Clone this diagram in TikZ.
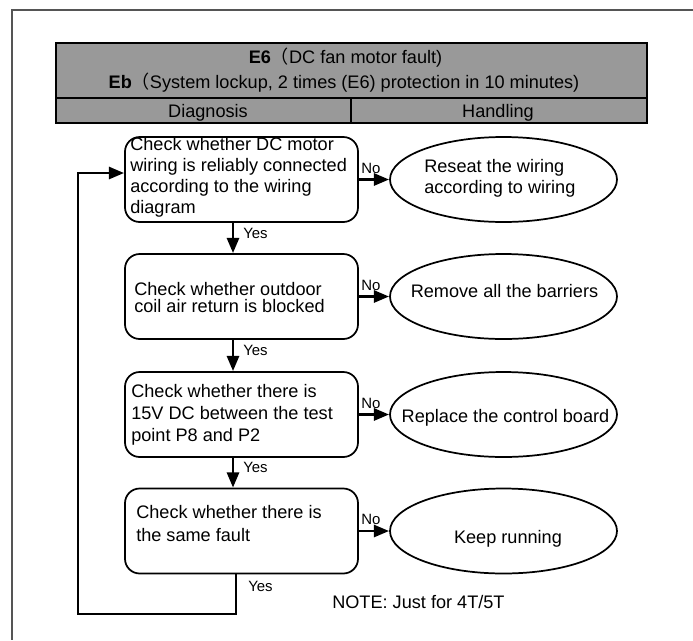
\documentclass[tikz,border=0pt]{standalone}
\usepackage{fontspec}
\setmainfont{Liberation Sans}
\newfontfamily\cjk{Noto Sans CJK SC}
\usetikzlibrary{arrows.meta,shapes.geometric}
\definecolor{hgray}{HTML}{999999}
\definecolor{framegray}{HTML}{555555}
\newcommand\mlines[3]{\parbox[t]{#1}{\fontsize{13.6}{#2}\selectfont\raggedright #3}}
\tikzset{
  box/.style={draw, line width=1.3pt, rounded corners=11pt, minimum width=174.75pt, minimum height=63.75pt, inner sep=0pt},
  oval/.style={draw, ellipse, line width=1.3pt, minimum width=170.25pt, minimum height=63.75pt, inner sep=0pt},
  arr/.style={line width=2.2pt, line join=miter, -{Triangle[length=11.5pt,width=9pt]}},
  hcell/.style={draw, fill=hgray, line width=1.5pt, inner sep=0pt},
  txt/.style={inner sep=0pt, font=\fontsize{13.6}{16}\selectfont},
  lab/.style={inner sep=0pt, font=\fontsize{11.2}{13}\selectfont, anchor=base west},
}
\begin{document}
\begin{tikzpicture}[x=0.75pt, y=-0.75pt]
\useasboundingbox (0,0) rectangle (693,640);
% outer frame
\draw[framegray, line width=1pt] (693,10) -- (12,10) -- (12,640);
% header
\node[hcell, minimum width=443.25pt, minimum height=41.25pt] (hdr) at (351.5,70.5) {};
\node[hcell, minimum width=221.25pt, minimum height=18.75pt] (dg) at (203.5,110.5) {};
\node[hcell, minimum width=222pt, minimum height=18.75pt] (hd) at (499,110.5) {};
\node[txt, anchor=base] (h1) at (345.5,63) {\textbf{E6}{\cjk （}DC fan motor fault)};
\node[txt, anchor=base] (h2) at (344,88) {\textbf{Eb}{\cjk （}System lockup, 2 times (E6) protection in 10 minutes)};
\node[txt, anchor=base] (dgt) at (208,117) {Diagnosis};
\node[txt, anchor=base] (hdt) at (498,117) {Handling};
% check boxes
\node[box] (b1) at (241.5,179.5) {};
\node[box] (b2) at (241.5,296.5) {};
\node[box] (b3) at (241.5,414.5) {};
\node[box] (b4) at (241.5,531) {};
\node[anchor=base west, inner sep=0pt] (t1) at (130,150) {\mlines{200pt}{15.75pt}{Check whether DC motor\\wiring is reliably connected\\according to the wiring\\diagram}};
\node[anchor=base west, inner sep=0pt] (t2) at (134,295) {\mlines{200pt}{13pt}{Check whether outdoor\\coil air return is blocked}};
\node[anchor=base west, inner sep=0pt] (t3) at (131,397) {\mlines{200pt}{16.5pt}{Check whether there is\\15V DC between the test\\point P8 and P2}};
\node[anchor=base west, inner sep=0pt] (t4) at (136,518) {\mlines{200pt}{17.25pt}{Check whether there is\\the same fault}};
% handling ovals
\node[oval] (e1) at (503.5,179.5) {};
\node[oval] (e2) at (503.5,296.5) {};
\node[oval] (e3) at (503.5,414.5) {};
\node[oval] (e4) at (503.5,531) {};
\node[anchor=base west, inner sep=0pt] (s1) at (424,172) {\mlines{200pt}{15.75pt}{Reseat the wiring\\according to wiring}};
\node[txt, anchor=base] (s2) at (504.5,297) {Remove all the barriers};
\node[txt, anchor=base] (s3) at (505.5,422) {Replace the control board};
\node[txt, anchor=base] (s4) at (508,543) {Keep running};
% coordinates for connectors
\coordinate (ax) at (233,0);
\coordinate (lb) at (236,614);
\coordinate (ll) at (78,614);
\coordinate (lt) at (78,173);
% yes arrows
\draw[arr] (ax |- b1.south) -- (ax |- b2.north);
\draw[arr] (ax |- b2.south) -- (ax |- b3.north);
\draw[arr] (ax |- b3.south) -- (ax |- b4.north);
\draw[arr] (lb |- b4.south) -- (lb) -- (ll) -- (lt) -- (lt -| b1.west);
% no arrows
\draw[arr] (b1.east) -- (e1.west);
\draw[arr] (b2.east) -- (e2.west);
\draw[arr] (b3.east) -- (e3.west);
\draw[arr] (b4.east) -- (e4.west);
% labels
\node[lab] (y1) at (243,238) {Yes};
\node[lab] (y2) at (243,355) {Yes};
\node[lab] (y3) at (243,472) {Yes};
\node[lab] (y4) at (248,591) {Yes};
\node[lab] (n1) at (361,173) {No};
\node[lab] (n2) at (361,290) {No};
\node[lab] (n3) at (361,408) {No};
\node[lab] (n4) at (361,524) {No};
\node[txt, anchor=base west] (note) at (332,608) {NOTE: Just for 4T/5T};
\end{tikzpicture}
\end{document}
